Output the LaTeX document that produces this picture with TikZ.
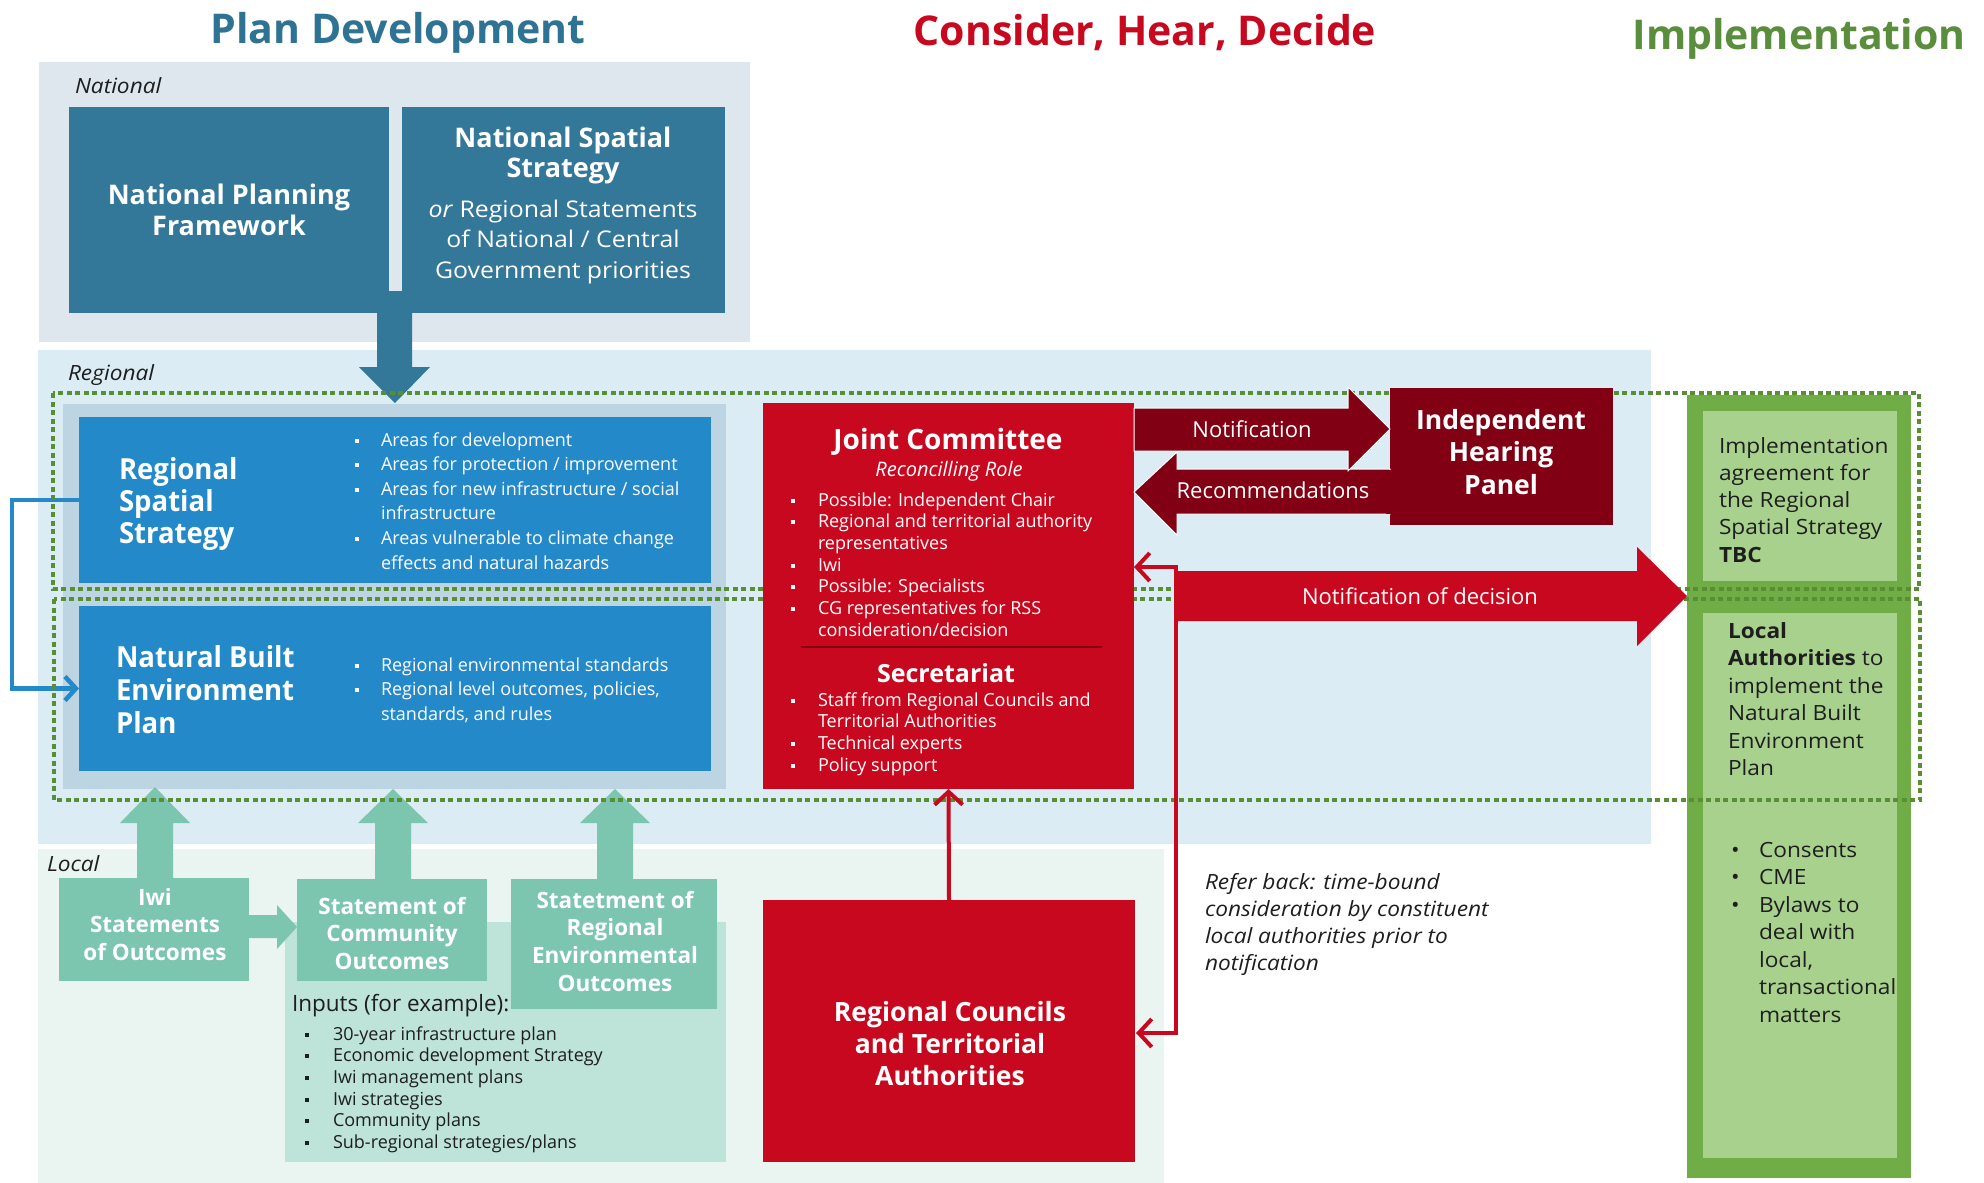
\documentclass[tikz,border=0pt]{standalone}
\usepackage{fontspec}
\setmainfont{Open Sans}
\newfontfamily\cnd[FakeStretch=0.95]{Open Sans}
\newfontfamily\wide[FakeStretch=1.08]{Open Sans}
\usetikzlibrary{arrows.meta,fit}
\definecolor{ttlblue}{RGB}{47,115,148}
\definecolor{natbg}{RGB}{222,231,238}
\definecolor{natbox}{RGB}{51,119,153}
\definecolor{regbg}{RGB}{220,236,245}
\definecolor{grayblue}{RGB}{189,212,226}
\definecolor{brblue}{RGB}{35,137,200}
\definecolor{jred}{RGB}{200,8,30}
\definecolor{dred}{RGB}{130,0,20}
\definecolor{ttlgreen}{RGB}{90,142,60}
\definecolor{dotgreen}{RGB}{88,143,52}
\definecolor{locbg}{RGB}{234,244,241}
\definecolor{tealbox}{RGB}{124,197,174}
\definecolor{lteal}{RGB}{190,227,216}
\definecolor{impgreen}{RGB}{112,173,71}
\definecolor{implight}{RGB}{169,209,142}
\definecolor{txtdark}{RGB}{30,30,30}
\newcommand\bul[1]{\leavevmode\llap{\makebox[#1][l]{\textbullet}}}
\newcommand\sqb[1]{\leavevmode\llap{\makebox[#1][l]{\hspace{1pt}\rule[3.5pt]{4pt}{4pt}}}}
\newcommand\fsz[2]{\fontsize{#1}{#2}\selectfont}
\begin{document}
\begin{tikzpicture}[x=1pt,y=-1pt,
  panel/.style={inner sep=0pt,outer sep=0pt,draw=none},
  tx/.style={inner sep=0pt,outer sep=0pt},
  dotg/.style={draw=dotgreen,line width=4pt,dash pattern=on 5pt off 3.5pt},
  rline/.style={draw=jred,line width=4pt},
  barb/.tip={Straight Barb[length=13pt,width=28pt]},
  ttl/.style={tx,anchor=base,font=\bfseries\fsz{41}{48}},
  lbl/.style={tx,anchor=base west,text=txtdark,font=\wide\itshape\fsz{21}{25}}]
\useasboundingbox (0,0) rectangle (1984,1183);
\fill[white] (0,0) rectangle (1984,1183);

% titles
\node[ttl,text=ttlblue] (t1) at (398,43) {Plan Development};
\node[ttl,text=jred] (t2) at (1145,45) {Consider, Hear, Decide};
\node[ttl,text=ttlgreen] (t3) at (1799,49) {Implementation};

% panels
\node[panel,fill=natbg,fit={(39,62)(750,342)}] (natpanel) {};
\node[panel,fill=regbg,fit={(38,350)(1651,844)}] (regpanel) {};
\node[panel,fill=locbg,fit={(38,849)(1164,1183)}] (locpanel) {};
\node[lbl] (lnat) at (75,93) {National};
\node[lbl] (lreg) at (68,380) {Regional};
\node[lbl] (lloc) at (47,871) {Local};

% national boxes
\node[panel,fill=natbox,fit={(69,107)(389,313)}] (npf) {};
\node[panel,fill=natbox,fit={(402,107)(725,313)}] (nss) {};
\fill[natbox] (389,291) rectangle (402,313);
\fill[natbox] (377,313) -- (377,367) -- (359,367) -- (395,403) -- (430,367) -- (412,367) -- (412,313) -- cycle;
\node[tx,anchor=base,text=white,font=\bfseries\fsz{27}{31.5}] (npft) at (229,204)
  {\parbox[t]{300pt}{\centering National Planning\\Framework}};
\node[tx,anchor=base,text=white,font=\bfseries\fsz{27}{30}] (nsst) at (563,147)
  {\parbox[t]{310pt}{\centering National Spatial\\Strategy}};
\node[tx,anchor=base,text=white,font=\wide\fsz{23}{30.5}] (nsss) at (563,217)
  {\parbox[t]{310pt}{\centering \textit{or} Regional Statements\\of National / Central\\Government priorities}};

% regional plan boxes
\node[panel,fill=grayblue,fit={(63,404)(726,789)}] (gb) {};
\node[panel,fill=brblue,fit={(79,417)(711,583)}] (rss) {};
\node[panel,fill=brblue,fit={(79,606)(711,771)}] (nbep) {};
\node[tx,anchor=base west,text=white,font=\cnd\bfseries\fsz{29}{32}] (rsst) at (119,479)
  {\parbox[t]{220pt}{\raggedright Regional\\Spatial\\Strategy}};
\node[tx,anchor=base west,text=white,font=\fsz{18}{24.6}] (rssb) at (381,446)
  {\parbox[t]{320pt}{\raggedright
   \sqb{27pt}Areas for development\\
   \sqb{27pt}Areas for protection / improvement\\
   \sqb{27pt}Areas for new infrastructure / social\\
   infrastructure\\
   \sqb{27pt}Areas vulnerable to climate change\\
   effects and natural hazards}};
\node[tx,anchor=base west,text=white,font=\cnd\bfseries\fsz{29}{33}] (nbept) at (116,667)
  {\parbox[t]{240pt}{\raggedright Natural Built\\Environment\\Plan}};
\node[tx,anchor=base west,text=white,font=\fsz{18}{24.6}] (nbepb) at (381,671)
  {\parbox[t]{320pt}{\raggedright
   \sqb{27pt}Regional environmental standards\\
   \sqb{27pt}Regional level outcomes, policies,\\
   standards, and rules}};
\draw[draw=brblue,line width=4.5pt,-{Straight Barb[length=11pt,width=24pt]}]
  (rss.west) -- ++(-67,0) |- (nbep.west);

% local boxes
\node[panel,fill=lteal,fit={(285,922)(726,1162)}] (inputs) {};
\foreach \cx/\yb/\yt in {155/878/787, 393/879/789, 615/879/789}
  {\fill[tealbox] (\cx-18,\yb) -- (\cx-18,823) -- (\cx-35,823) -- (\cx,\yt) -- (\cx+35,823) -- (\cx+18,823) -- (\cx+18,\yb) -- cycle;}
\node[panel,fill=tealbox,fit={(59,878)(249,981)}] (iwi) {};
\node[panel,fill=tealbox,fit={(297,879)(487,981)}] (com) {};
\node[panel,fill=tealbox,fit={(511,879)(717,1009)}] (sreo) {};
\fill[tealbox] (249,915) -- (277,915) -- (277,905) -- (297,927) -- (277,949) -- (277,938) -- (249,938) -- cycle;
\node[tx,anchor=base,text=white,font=\bfseries\fsz{22.5}{27.5}] (iwit) at (155,905)
  {\parbox[t]{185pt}{\centering Iwi\\Statements\\of Outcomes}};
\node[tx,anchor=base,text=white,font=\bfseries\fsz{22.5}{27.5}] (comt) at (392,914)
  {\parbox[t]{185pt}{\centering Statement of\\Community\\Outcomes}};
\node[tx,anchor=base,text=white,font=\bfseries\fsz{22.5}{27.7}] (sreot) at (615,908)
  {\parbox[t]{200pt}{\centering Statetment of\\Regional\\Environmental\\Outcomes}};
\node[tx,anchor=base west,text=txtdark,font=\fsz{22.5}{25}] (inpt) at (292,1011) {Inputs (for example):};
\node[tx,anchor=base west,text=txtdark,font=\fsz{18}{21.7}] (inpb) at (333,1040)
  {\parbox[t]{380pt}{\raggedright
   \sqb{29pt}30-year infrastructure plan\\
   \sqb{29pt}Economic development Strategy\\
   \sqb{29pt}Iwi management plans\\
   \sqb{29pt}Iwi strategies\\
   \sqb{29pt}Community plans\\
   \sqb{29pt}Sub-regional strategies/plans}};

% implementation column
\node[panel,fill=impgreen,fit={(1687,395)(1911,1178)}] (impl) {};
\node[panel,fill=implight,fit={(1703,411)(1897,581)}] (imp1) {};
\node[panel,fill=implight,fit={(1703,613)(1897,1158)}] (imp2) {};
\node[tx,anchor=base west,text=txtdark,font=\wide\fsz{21}{27.3}] (imp1t) at (1719,453)
  {\parbox[t]{180pt}{\raggedright Implementation\\agreement for\\the Regional\\Spatial Strategy\\\textbf{TBC}}};
\node[tx,anchor=base west,text=txtdark,font=\wide\fsz{21}{27.5}] (imp2t) at (1728,638)
  {\parbox[t]{170pt}{\raggedright \textbf{Local}\\\textbf{Authorities} to\\implement the\\Natural Built\\Environment\\Plan}};
\node[tx,anchor=base west,text=txtdark,font=\wide\fsz{21}{27.5}] (imp2b) at (1759,857)
  {\parbox[t]{140pt}{\raggedright
   \bul{28pt}Consents\\
   \bul{28pt}CME\\
   \bul{28pt}Bylaws to\\deal with\\local,\\transactional\\matters}};

% dotted groupings
\draw[dotg] (53,393) rectangle (1919,589);
\draw[dotg] (54,599) rectangle (1920,800);

% consider / hear / decide
\node[panel,fill=jred,fit={(763,403)(1134,789)}] (jc) {};
\node[tx,anchor=base,text=white,font=\bfseries\fsz{28}{32}] (jct) at (948,449) {Joint Committee};
\node[tx,anchor=base,text=white,font=\itshape\fsz{20}{24}] (jcr) at (949,476) {Reconcilling Role};
\node[tx,anchor=base west,text=white,font=\fsz{18}{21.7}] (jcb) at (818,506)
  {\parbox[t]{310pt}{\raggedright
   \sqb{28pt}Possible: Independent Chair\\
   \sqb{28pt}Regional and territorial authority\\
   representatives\\
   \sqb{28pt}Iwi\\
   \sqb{28pt}Possible: Specialists\\
   \sqb{28pt}CG representatives for RSS\\
   consideration/decision}};
\draw[draw=dred,line width=1.5pt] (801,647) -- (1102,647);
\node[tx,anchor=base,text=white,font=\bfseries\fsz{25}{30}] (sect) at (946,682) {Secretariat};
\node[tx,anchor=base west,text=white,font=\fsz{18}{21.7}] (secb) at (818,706)
  {\parbox[t]{310pt}{\raggedright
   \sqb{28pt}Staff from Regional Councils and\\
   Territorial Authorities\\
   \sqb{28pt}Technical experts\\
   \sqb{28pt}Policy support}};

\node[panel,fill=dred,fit={(1390,388)(1613,525)}] (ihp) {};
\node[tx,anchor=base,text=white,font=\bfseries\fsz{26.5}{32.5}] (ihpt) at (1501,429)
  {\parbox[t]{215pt}{\centering Independent\\Hearing\\Panel}};

\fill[dred,draw=white,line width=1pt] (1390,469) -- (1177,469) -- (1177,452) -- (1134,492) -- (1177,535) -- (1177,514) -- (1390,514) -- cycle;
\fill[dred,draw=white,line width=1pt] (1134,408) -- (1348,408) -- (1348,387) -- (1390,429) -- (1348,471) -- (1348,451) -- (1134,451) -- cycle;
\fill[dred] (1386,470) rectangle (1392,514);
\node[tx,anchor=base,text=white,font=\fsz{22}{26}] (notl) at (1252,437) {Notification};
\node[tx,anchor=base,text=white,font=\fsz{22}{26}] (recl) at (1273,498) {Recommendations};

\fill[jred] (1175,571) -- (1637,571) -- (1637,547) -- (1687,596) -- (1637,646) -- (1637,621) -- (1175,621) -- cycle;
\node[tx,anchor=base,text=white,font=\fsz{22}{26}] (nodl) at (1420,604) {Notification of decision};

\node[panel,fill=jred,fit={(763,900)(1135,1162)}] (rcta) {};
\node[tx,anchor=base,text=white,font=\bfseries\fsz{26.5}{32}] (rctat) at (950,1021)
  {\parbox[t]{350pt}{\centering Regional Councils\\and Territorial\\Authorities}};

\coordinate (rb1) at (1134,567);
\coordinate (rb2) at (1136,1033);
\draw[rline,barb-barb] (rb1) -- (1176,567) -- (1176,1033) -- (rb2);
\draw[rline,-barb] (rcta.north) -- (jc.south);

\node[tx,anchor=base west,text=txtdark,font=\wide\itshape\fsz{21}{27.3}] (rbt) at (1205,889)
  {\parbox[t]{320pt}{\raggedright Refer back: time-bound\\consideration by constituent\\local authorities prior to\\notification}};
\end{tikzpicture}
\end{document}
